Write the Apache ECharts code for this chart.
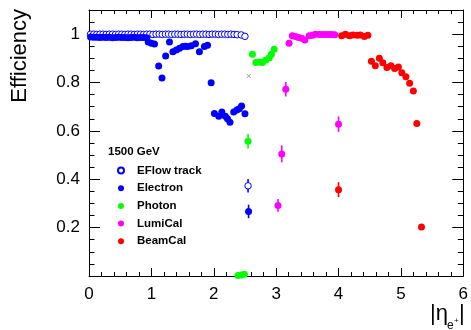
<!DOCTYPE html>
<html>
<head>
<meta charset="utf-8">
<script src="https://cdn.jsdelivr.net/npm/echarts@6/dist/echarts.min.js"></script>
<style>html,body{margin:0;padding:0;background:#fff}#c{width:471px;height:330px}</style>
</head>
<body>
<div id="c"></div>
<script>
// ---- data (eta, efficiency) ----
const xTicks = [0, 1, 2, 3, 4, 5, 6];
const yTicks = [0.2, 0.4, 0.6, 0.8, 1];

const eflowTrack = [
  [0.025,1.0],[0.075,1.0],[0.125,0.999],[0.175,1.0],[0.225,1.0],[0.275,0.999],[0.325,1.0],[0.375,1.0],
  [0.425,0.999],[0.475,1.0],[0.525,1.0],[0.575,0.999],[0.625,1.0],[0.675,1.0],[0.725,0.999],[0.775,1.0],
  [0.825,1.0],[0.875,0.999],[0.925,1.0],[0.975,1.0],[1.025,0.999],[1.075,1.0],[1.125,1.0],[1.175,0.999],
  [1.225,1.0],[1.275,1.0],[1.325,0.999],[1.375,1.0],[1.425,1.0],[1.475,0.999],[1.525,1.0],[1.575,1.0],
  [1.625,0.999],[1.675,1.0],[1.725,1.0],[1.775,0.999],[1.825,1.0],[1.875,1.0],[1.925,0.999],[1.975,1.0],
  [2.025,1.0],[2.075,0.999],[2.125,1.0],[2.175,1.0],[2.225,0.999],[2.275,1.0],[2.325,0.999],[2.375,0.998],
  [2.44,0.997],[2.50,0.991],[2.55,0.373]
];
const electron = [
  [0.025,0.988],[0.075,0.987],[0.125,0.987],[0.175,0.986],[0.225,0.987],[0.275,0.986],[0.325,0.987],
  [0.375,0.985],[0.425,0.986],[0.475,0.987],[0.525,0.986],[0.575,0.986],[0.625,0.985],[0.675,0.986],
  [0.725,0.987],[0.775,0.985],[0.825,0.986],[0.875,0.986],[0.925,0.985],
  [0.95,0.968],[1.0,0.963],[1.05,0.959],[1.117,0.868],[1.17,0.819],[1.229,0.910],[1.29,0.968],
  [1.345,0.927],[1.40,0.935],[1.452,0.942],[1.505,0.949],[1.545,0.950],[1.585,0.949],[1.64,0.952],
  [1.707,0.960],[1.77,0.927],[1.85,0.949],[1.90,0.954],[1.958,0.799],
  [2.01,0.672],[2.08,0.661],[2.13,0.678],[2.186,0.661],[2.22,0.650],[2.26,0.636],[2.32,0.678],
  [2.37,0.686],[2.41,0.692],[2.446,0.703],[2.50,0.671],[2.558,0.267]
];
const photon = [
  [2.39,0.002],[2.44,0.004],[2.49,0.007],[2.55,0.557],[2.62,0.917],[2.676,0.883],[2.73,0.885],
  [2.78,0.883],[2.836,0.893],[2.89,0.903],[2.925,0.917],[2.968,0.938]
];
const lumiCal = [
  [3.03,0.292],[3.09,0.505],[3.155,0.772],[3.207,0.963],[3.26,0.993],[3.31,0.990],[3.36,0.986],
  [3.41,0.983],[3.46,0.976],[3.53,0.993],[3.58,0.996],[3.63,1.0],[3.69,0.999],[3.74,0.999],
  [3.79,0.999],[3.84,0.999],[3.89,0.999],[3.94,0.998],[4.0,0.628]
];
const beamCal = [
  [4.0,0.357],[4.05,0.993],[4.11,1.0],[4.176,0.993],[4.23,0.997],[4.30,0.996],[4.35,0.997],
  [4.415,0.990],[4.47,0.996],[4.527,0.888],[4.59,0.869],[4.655,0.900],[4.71,0.882],[4.776,0.862],
  [4.84,0.869],[4.90,0.858],[4.96,0.864],[5.015,0.841],[5.08,0.824],[5.14,0.797],[5.20,0.765],
  [5.255,0.631],[5.33,0.203]
];
const otherPoint = [[2.56,0.827]];

// error bars: [eta, value, error]
const eflowErr = [[2.55,0.373,0.028]];
const electronErr = [[2.558,0.267,0.028],[2.22,0.650,0.01],[2.41,0.692,0.01]];
const photonErr = [[2.55,0.557,0.03]];
const lumiErr = [[3.03,0.292,0.026],[3.09,0.505,0.035],[3.155,0.772,0.03],[4.0,0.628,0.032]];
const beamErr = [[4.0,0.357,0.031]];

const BLUE = '#0000ff', GREEN = '#00ff00', MAGENTA = '#ff00ff', RED = '#ff0000';
const FONT = '"Liberation Sans", Arial, Helvetica, sans-serif';

function errRender(params, api) {
  const x = api.value(0), y = api.value(1), e = api.value(2);
  const p1 = api.coord([x, y - e]), p2 = api.coord([x, y + e]);
  return { type: 'line', shape: { x1: p1[0], y1: p1[1], x2: p2[0], y2: p2[1] },
           style: { stroke: api.visual('color'), lineWidth: 1.6 } };
}
function errSeries(data, color) {
  return { type: 'custom', data: data, renderItem: errRender, encode: { x: 0, y: 1 },
           itemStyle: { color: color }, z: 1, silent: true };
}

const chart = echarts.init(document.getElementById('c'), null, { renderer: 'canvas' });

const xBase = {
  type: 'value', min: 0, max: 6, interval: 1,
  axisLine: { show: true, onZero: false, lineStyle: { color: '#000', width: 1 } },
  axisTick: { show: true, inside: true, length: 8, lineStyle: { color: '#000' } },
  minorTick: { show: true, splitNumber: 5, length: 4, lineStyle: { color: '#000' } },
  splitLine: { show: false }
};
const yBase = {
  type: 'value', min: 0, max: 1.1, interval: 0.2,
  axisLine: { show: true, onZero: false, lineStyle: { color: '#000', width: 1 } },
  axisTick: { show: true, inside: true, length: 11, lineStyle: { color: '#000' } },
  minorTick: { show: true, splitNumber: 4, length: 5.5, lineStyle: { color: '#000' } },
  splitLine: { show: false }
};

chart.setOption({
  animation: false,
  backgroundColor: '#fff',
  grid: { left: 89, right: 6, top: 10, bottom: 54 },
  title: {
    text: '1500 GeV', left: 108, top: 146, padding: 0,
    textStyle: { fontFamily: FONT, fontWeight: 'bold', fontSize: 11.5, color: '#000' }
  },
  legend: {
    data: ['EFlow track', 'Electron', 'Photon', 'LumiCal', 'BeamCal'],
    orient: 'vertical', left: 117, top: 163.5, padding: 0,
    itemWidth: 6, itemHeight: 6, itemGap: 3.7, icon: 'circle',
    textStyle: { fontFamily: FONT, fontWeight: 'bold', fontSize: 11.5, color: '#000',
                 lineHeight: 14, padding: [0, 0, 0, 8] }
  },
  xAxis: [
    Object.assign({}, xBase, {
      position: 'bottom',
      axisLabel: { show: true, margin: 10, fontFamily: FONT, fontSize: 17, color: '#000',
                   formatter: v => xTicks.includes(v) ? String(v) : '' }
    }),
    Object.assign({}, xBase, { position: 'top', axisLabel: { show: false } })
  ],
  yAxis: [
    Object.assign({}, yBase, {
      position: 'left',
      axisLabel: { show: true, margin: 9, fontFamily: FONT, fontSize: 17, color: '#000',
                   padding: [4, 0, 0, 0],
                   showMinLabel: false, showMaxLabel: false,
                   formatter: v => { const r = Math.round(v * 10) / 10; return yTicks.includes(r) ? String(r) : ''; } }
    }),
    Object.assign({}, yBase, { position: 'right', axisLabel: { show: false } })
  ],
  graphic: [
    { type: 'text', x: 20, y: 9, rotation: Math.PI / 2,
      style: { text: 'Efficiency', font: '22px ' + FONT, fill: '#000', align: 'right', verticalAlign: 'middle' } },
    { type: 'text', x: 430, y: 325,
      style: { text: '|\u03b7', font: '22px ' + FONT, fill: '#000', align: 'left', verticalAlign: 'bottom' } },
    { type: 'text', x: 447, y: 332,
      style: { text: 'e', font: '12px ' + FONT, fill: '#000', align: 'left', verticalAlign: 'bottom' } },
    { type: 'text', x: 454, y: 325,
      style: { text: '+', font: '8px ' + FONT, fill: '#000', align: 'left', verticalAlign: 'bottom' } },
    { type: 'text', x: 459, y: 325,
      style: { text: '|', font: '22px ' + FONT, fill: '#000', align: 'left', verticalAlign: 'bottom' } }
  ],
  series: [
    errSeries(eflowErr, BLUE),
    errSeries(electronErr, BLUE),
    errSeries(photonErr, GREEN),
    errSeries(lumiErr, MAGENTA),
    errSeries(beamErr, RED),
    { name: 'EFlow track', type: 'scatter', data: eflowTrack, symbol: 'circle', symbolSize: 6.5, z: 2,
      itemStyle: { color: '#fff', borderColor: BLUE, borderWidth: 1, opacity: 1 } },
    { name: 'Electron', type: 'scatter', data: electron, symbol: 'circle', symbolSize: 7, z: 3,
      itemStyle: { color: BLUE, opacity: 1 } },
    { name: 'Photon', type: 'scatter', data: photon, symbol: 'circle', symbolSize: 7, z: 3,
      itemStyle: { color: GREEN, opacity: 1 } },
    { name: 'LumiCal', type: 'scatter', data: lumiCal, symbol: 'circle', symbolSize: 7, z: 3,
      itemStyle: { color: MAGENTA, opacity: 1 } },
    { name: 'BeamCal', type: 'scatter', data: beamCal, symbol: 'circle', symbolSize: 7, z: 3,
      itemStyle: { color: RED, opacity: 1 } },
    { name: 'other', type: 'scatter', data: otherPoint, symbol: 'path://M0,0L10,10M10,0L0,10',
      symbolSize: 4, z: 3, itemStyle: { color: 'none', borderColor: '#888', borderWidth: 1 } }
  ]
});
</script>
</body>
</html>
